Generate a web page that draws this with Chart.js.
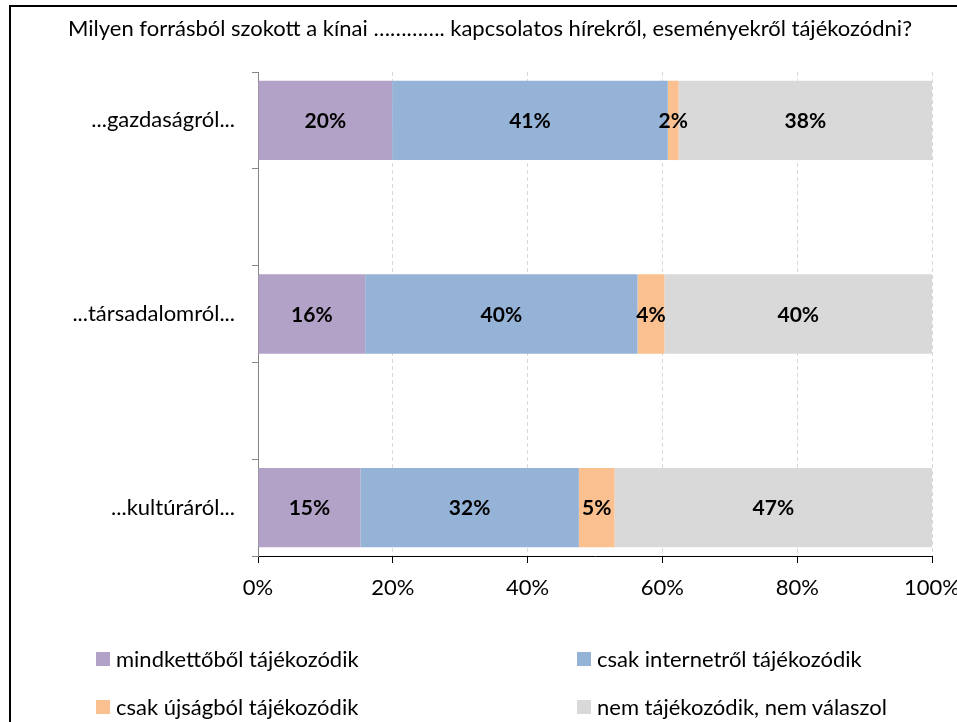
<!DOCTYPE html>
<html>
<head>
<meta charset="utf-8">
<script src="https://cdn.jsdelivr.net/npm/chart.js@4.4.1/dist/chart.umd.min.js"></script>
<style>
  html, body { margin: 0; padding: 0; background: #fff; overflow: hidden; width: 957px; height: 722px; }
  #frame { position: absolute; left: 9px; top: 5px; width: 2000px; height: 2000px; border-left: 2px solid #000; border-top: 2px solid #000; }
  #title { position: absolute; left: 0; width: 980px; top: 14px; text-align: center; font-family: Lato, sans-serif; font-size: 22px; line-height: 28px; color: #000; white-space: nowrap; }
  #wrap { position: absolute; left: 0; top: 0; width: 972px; height: 722px; }
  .leg { position: absolute; font-family: Lato, sans-serif; font-size: 22px; color: #000; white-space: nowrap; line-height: 28px; height: 28px; display: flex; align-items: center; }
  .leg span.sw { display: inline-block; width: 14px; height: 14px; margin-right: 6px; }
</style>
</head>
<body>
<div id="frame"></div>
<div id="wrap"><canvas id="c" width="972" height="722"></canvas></div>
<div id="title">Milyen forrásból szokott a kínai …………. kapcsolatos hírekről, eseményekről tájékozódni?</div>
<div id="legend"></div>
<script>
// categories (blank rows are spacer categories present in the original chart)
const categories = ['...gazdaságról...', '', '...társadalomról...', '', '...kultúráról...'];
const seriesNames = ['mindkettőből tájékozódik', 'csak internetről tájékozódik', 'csak újságból tájékozódik', 'nem tájékozódik, nem válaszol'];
const mindketto = [19.9, null, 15.9, null, 15.2];
const internet  = [40.9, null, 40.4, null, 32.4];
const ujsag     = [1.6,  null, 4.0,  null, 5.3];
const nem       = [37.6, null, 39.7, null, 47.1];
const xTicks = [0, 20, 40, 60, 80, 100];
const colors = ['#B3A2C7', '#95B3D7', '#FAC090', '#D9D9D9'];

const seriesValues = [mindketto, internet, ujsag, nem];
const FONT = 'Lato, sans-serif';

const labelPlugin = {
  id: 'segLabels',
  afterDatasetsDraw(chart) {
    const ctx = chart.ctx;
    ctx.save();
    ctx.font = 'bold 21px ' + FONT;
    ctx.fillStyle = '#000';
    ctx.textAlign = 'center';
    ctx.textBaseline = 'middle';
    chart.data.datasets.forEach((ds, di) => {
      const meta = chart.getDatasetMeta(di);
      meta.data.forEach((el, i) => {
        const v = ds.data[i];
        if (v === null || v === undefined) return;
        const cx = (el.x + el.base) / 2;
        ctx.fillText(Math.round(v) + '%', cx, el.y + 1);
      });
    });
    ctx.restore();
  }
};

new Chart(document.getElementById('c'), {
  type: 'bar',
  data: {
    labels: categories,
    datasets: seriesNames.map((n, i) => ({
      label: n,
      data: seriesValues[i],
      backgroundColor: colors[i],
      borderWidth: 0,
      categoryPercentage: 1.0,
      barPercentage: 0.82
    }))
  },
  options: {
    indexAxis: 'y',
    responsive: false,
    animation: false,
    events: [],
    layout: { padding: { top: 72, right: 23, bottom: 0, left: 0 } },
    plugins: { legend: { display: false }, tooltip: { enabled: false }, title: { display: false } },
    scales: {
      x: {
        stacked: true,
        min: 0, max: 100,
        afterBuildTicks: (s) => { s.ticks = xTicks.map(v => ({ value: v })); },
        afterFit: (s) => { s.height = 166; },
        ticks: { callback: (v) => v + '%', color: '#000', font: { family: FONT, size: 22 }, padding: 12, maxRotation: 0 },
        grid: { color: '#D9D9D9', lineWidth: 1, tickColor: '#000', tickLength: 7, tickBorderDash: [], drawTicks: true },
        border: { display: true, color: '#000', width: 1, dash: [4, 3] }
      },
      y: {
        stacked: true,
        offset: true,
        afterFit: (s) => { s.width = 258; },
        ticks: { color: '#000', font: { family: FONT, size: 22 }, padding: 17, autoSkip: false },
        grid: { offset: true, drawOnChartArea: false, color: '#868686', tickLength: 6 },
        border: { display: true, color: '#868686', width: 1 }
      }
    }
  },
  plugins: [labelPlugin]
});

// HTML legend
const legPos = [[96, 645], [577, 645], [96, 693], [577, 693]];
const legEl = document.getElementById('legend');
seriesNames.forEach((n, i) => {
  const d = document.createElement('div');
  d.className = 'leg';
  d.style.left = legPos[i][0] + 'px';
  d.style.top = legPos[i][1] + 'px';
  d.innerHTML = '<span class="sw" style="background:' + colors[i] + '"></span>' + n;
  legEl.appendChild(d);
});
</script>
</body>
</html>
